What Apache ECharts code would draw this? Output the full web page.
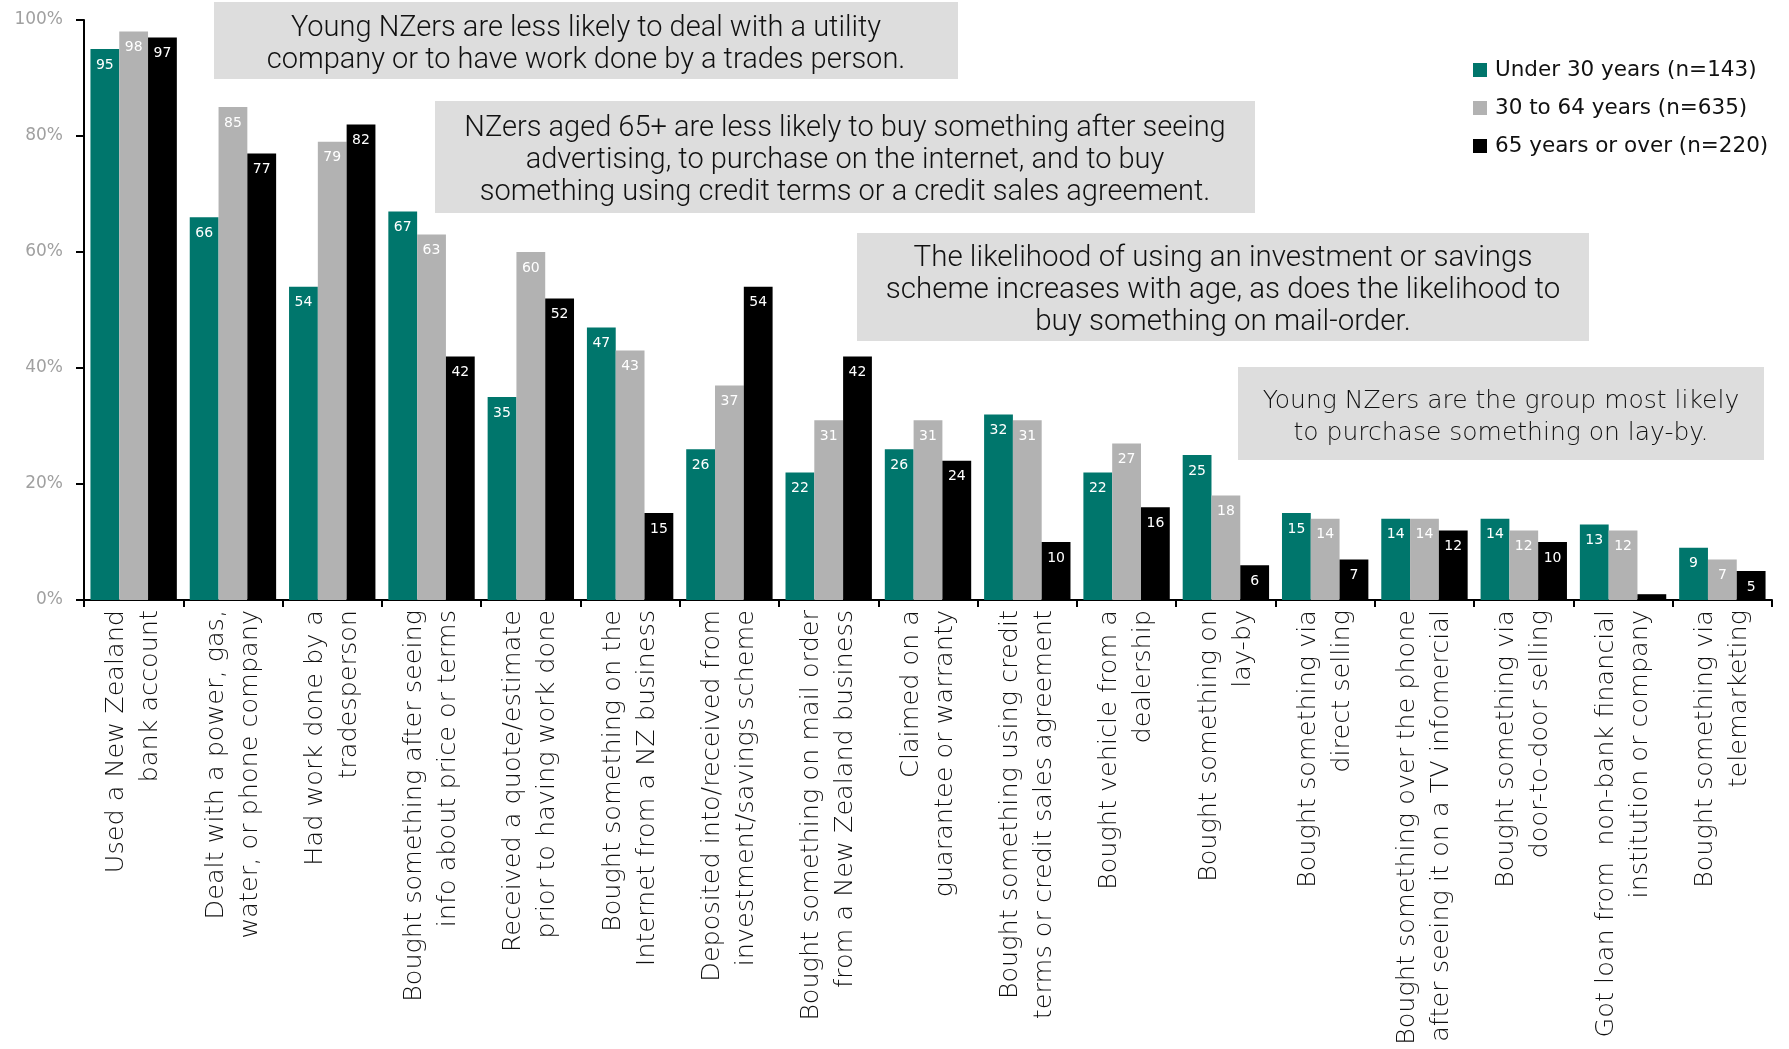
<!DOCTYPE html>
<html>
<head>
<meta charset="utf-8">
<script src="https://cdn.jsdelivr.net/npm/echarts@6/dist/echarts.min.js"></script>
<style>
  html, body { margin: 0; padding: 0; background: #ffffff; }
  #chart { width: 1789px; height: 1049px; }
</style>
</head>
<body>
<div id="chart"></div>
<script>
// Consumer activities in the past year, by age group (% of respondents)
const categories = [
  'Used a New Zealand\nbank account',
  'Dealt with a power, gas,\nwater, or phone company',
  'Had work done by a\ntradesperson',
  'Bought something after seeing\ninfo about price or terms',
  'Received a quote/estimate\nprior to having work done',
  'Bought something on the\nInternet from a NZ business',
  'Deposited into/received from\ninvestment/savings scheme',
  'Bought something on mail order\nfrom a New Zealand business',
  'Claimed on a\nguarantee or warranty',
  'Bought something using credit\nterms or credit sales agreement',
  'Bought vehicle from a\ndealership',
  'Bought something on\nlay-by',
  'Bought something via\ndirect selling',
  'Bought something over the phone\nafter seeing it on a TV infomercial',
  'Bought something via\ndoor-to-door selling',
  'Got loan from  non-bank financial\ninstitution or company',
  'Bought something via\ntelemarketing'
];

const under30 = [95, 66, 54, 67, 35, 47, 26, 22, 26, 32, 22, 25, 15, 14, 14, 13, 9];
const age30to64 = [98, 85, 79, 63, 60, 43, 37, 31, 31, 31, 27, 18, 14, 14, 12, 12, 7];
const age65plus = [97, 77, 82, 42, 52, 15, 54, 42, 24, 10, 16, 6, 7, 12, 10, 1, 5];

const seriesNames = ['Under 30 years (n=143)', '30 to 64 years (n=635)', '65 years or over (n=220)'];
const seriesColors = ['#00766c', '#b2b2b2', '#000000'];

const yTicks = [0, 20, 40, 60, 80, 100];

const notes = [
  'Young NZers are less likely to deal with a utility\ncompany or to have work done by a trades person.',
  'NZers aged 65+ are less likely to buy something after seeing\nadvertising, to purchase on the internet, and to buy\nsomething using credit terms or a credit sales agreement.',
  'The likelihood of using an investment or savings\nscheme increases with age, as does the likelihood to\nbuy something on mail-order.',
  'Young NZers are the group most likely\nto purchase something on lay-by.'
];

// Callout boxes: [left, top, width, height]
const noteBoxes = [
  [214, 2, 744, 77],
  [435, 101, 820, 112],
  [857, 233, 732, 108],
  [1238, 367, 526, 93]
];
const noteFonts = ['Roboto', 'Roboto', 'Roboto', 'DejaVu Sans'];
const noteSizes = [29, 29, 29.5, 25];

const chart = echarts.init(document.getElementById('chart'), null, { renderer: 'canvas' });

function barSeries(name, values, color) {
  return {
    name: name,
    type: 'bar',
    barGap: '0%',
    barCategoryGap: '13%',
    itemStyle: { color: color },
    label: {
      show: true,
      position: 'insideTop',
      distance: 9,
      color: '#ffffff',
      fontFamily: 'DejaVu Sans',
      fontSize: 14,
      formatter: '{c}'
    },
    data: values.map(v => ({ value: v, label: { show: v >= 2 } }))
  };
}

const graphics = notes.map((txt, i) => {
  const b = noteBoxes[i];
  return {
    type: 'group',
    left: b[0],
    top: b[1],
    children: [
      { type: 'rect', shape: { x: 0, y: 0, width: b[2], height: b[3] }, style: { fill: '#dddddd' } },
      {
        type: 'text',
        x: b[2] / 2,
        y: b[3] / 2 + 4,
        style: {
          text: txt,
          fill: '#111111',
          font: '300 ' + noteSizes[i] + 'px "' + noteFonts[i] + '"',
          align: 'center',
          verticalAlign: 'middle',
          lineHeight: 32
        }
      }
    ]
  };
});

chart.setOption({
  animation: false,
  backgroundColor: '#ffffff',
  grid: { left: 84, right: 17, top: 20, bottom: 449, containLabel: false, outerBoundsMode: 'none' },
  legend: {
    orient: 'vertical',
    left: 1473,
    top: 59,
    padding: 0,
    itemWidth: 14,
    itemHeight: 14,
    itemGap: 16,
    icon: 'rect',
    textStyle: { fontFamily: 'DejaVu Sans', fontSize: 21.5, color: '#111111', padding: [0, 0, 0, 3] },
    data: seriesNames
  },
  xAxis: {
    type: 'category',
    data: categories,
    axisLine: { lineStyle: { color: '#000000', width: 2 } },
    axisTick: { show: true, length: 7, lineStyle: { color: '#000000', width: 2 } },
    axisLabel: {
      interval: 0,
      rotate: 90,
      margin: 10,
      fontFamily: 'DejaVu Sans',
      fontWeight: 300,
      fontSize: 25.5,
      lineHeight: 34,
      color: '#111111'
    }
  },
  yAxis: {
    type: 'value',
    min: yTicks[0],
    max: yTicks[yTicks.length - 1],
    interval: yTicks[1] - yTicks[0],
    splitLine: { show: false },
    axisLine: { show: true, lineStyle: { color: '#000000', width: 2 } },
    axisTick: { show: true, length: 8, lineStyle: { color: '#000000', width: 2 } },
    axisLabel: {
      margin: 21,
      fontFamily: 'DejaVu Sans',
      fontSize: 17,
      color: '#a0a0a0',
      formatter: '{value}%'
    }
  },
  series: [
    barSeries(seriesNames[0], under30, seriesColors[0]),
    barSeries(seriesNames[1], age30to64, seriesColors[1]),
    barSeries(seriesNames[2], age65plus, seriesColors[2])
  ],
  graphic: graphics
});
</script>
</body>
</html>
